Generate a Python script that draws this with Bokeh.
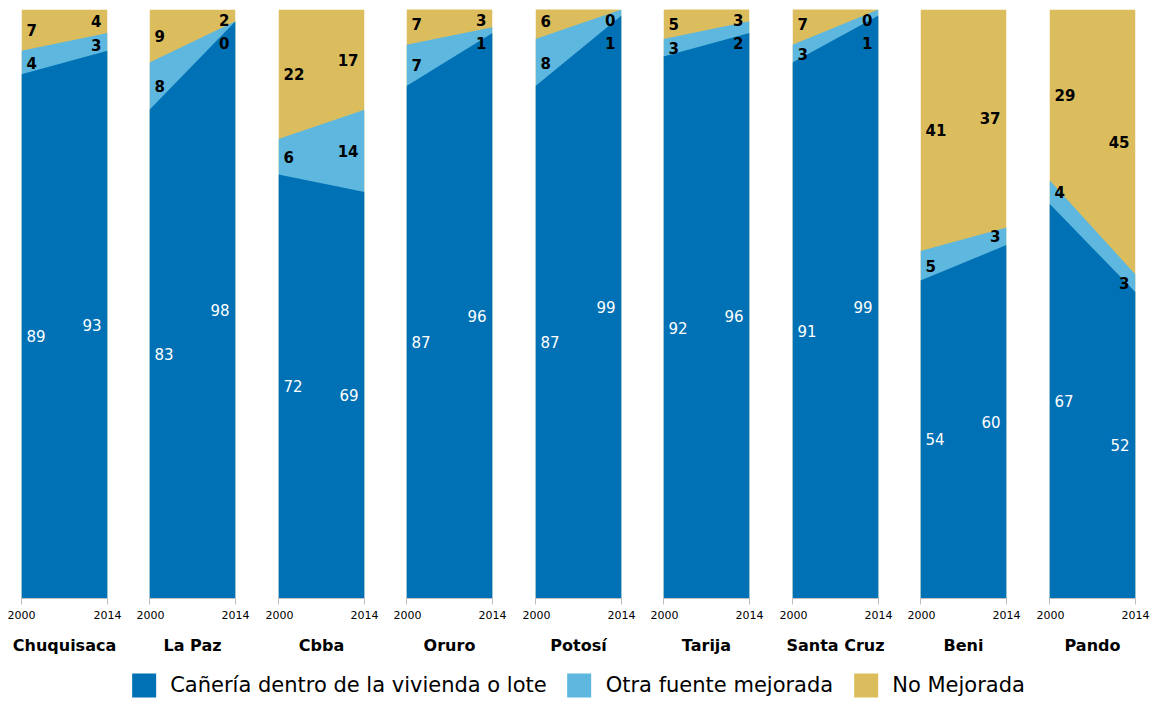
from bokeh.plotting import figure
from bokeh.models import (Range1d, FixedTicker, ColumnDataSource, Legend, LegendItem)
from bokeh.layouts import row, column
from bokeh.core.properties import value
from bokeh.embed import file_html
from bokeh.resources import INLINE

regions = ["Chuquisaca", "La Paz", "Cbba", "Oruro", "Potosí", "Tarija", "Santa Cruz", "Beni", "Pando"]
years = [2000, 2014]
caneria_2000 = [89, 83, 72, 87, 87, 92, 91, 54, 67]
caneria_2014 = [93, 98, 69, 96, 99, 96, 99, 60, 52]
otra_2000 = [4, 8, 6, 7, 8, 3, 3, 5, 4]
otra_2014 = [3, 0, 14, 1, 1, 2, 1, 3, 3]
nomej_2000 = [7, 9, 22, 7, 6, 5, 7, 41, 29]
nomej_2014 = [4, 2, 17, 3, 0, 3, 0, 37, 45]

series_names = ["Cañería dentro de la vivienda o lote", "Otra fuente mejorada", "No Mejorada"]
C_DARK = "#0071B4"
C_LIGHT = "#5DB7DE"
C_GOLD = "#DBBD5E"
FONT = "DejaVu Sans"

PLOT_W = 86
fig_widths = [136, 129, 128, 129, 128, 129, 128, 129, 117]
left_borders = [21, 13, 13, 13, 13, 13, 13, 13, 13]
figs = []
for i, reg in enumerate(regions):
    w = fig_widths[i]
    bl = left_borders[i]
    p = figure(width=w, height=668, output_backend="svg", toolbar_location=None,
               x_range=Range1d(2000, 2014), y_range=Range1d(0, 100),
               y_axis_location=None, min_border_left=bl, min_border_right=w - bl - PLOT_W,
               min_border_top=9, min_border_bottom=70)
    p.outline_line_color = None
    p.grid.visible = False
    p.background_fill_color = None
    p.border_fill_color = None

    c = [caneria_2000[i], caneria_2014[i]]
    o = [otra_2000[i], otra_2014[i]]
    nm = [nomej_2000[i], nomej_2014[i]]
    lb = [c[k] + o[k] for k in range(2)]
    top = [lb[k] + nm[k] for k in range(2)]
    src = ColumnDataSource(dict(x=years, c=c, lb=lb, top=top))
    p.varea(x="x", y1=0, y2="top", source=src, fill_color=C_GOLD)
    p.varea(x="x", y1=0, y2="lb", source=src, fill_color=C_LIGHT)
    p.varea(x="x", y1=0, y2="c", source=src, fill_color=C_DARK)

    # label positions (middle of each layer, kept apart near the top)
    for k, (yr, align, off) in enumerate([(2000, "left", 5), (2014, "right", -6)]):
        y_n = min(c[k] + o[k] + nm[k] / 2, 98.3)
        y_o = min(c[k] + o[k] / 2, y_n - 4)
        y_c = c[k] / 2
        p.text(x=[yr], y=[y_c], text=[str(c[k])], text_align=align, text_baseline="middle",
               x_offset=off, text_color="white", text_font=value(FONT), text_font_size="15px")
        p.text(x=[yr, yr], y=[y_o, y_n], text=[str(o[k]), str(nm[k])], text_align=align,
               text_baseline="middle", x_offset=off, text_color="black", text_font=value(FONT),
               text_font_size="15px", text_font_style="bold")

    ax = p.xaxis[0]
    ax.ticker = FixedTicker(ticks=years)
    ax.axis_line_color = "#BFBFBF"
    ax.major_tick_line_color = "#BFBFBF"
    ax.major_tick_out = 6
    ax.major_tick_in = 0
    ax.minor_tick_line_color = None
    ax.major_label_text_font = FONT
    ax.major_label_text_font_size = "11px"
    ax.major_label_text_color = "black"
    ax.major_label_standoff = 6
    ax.axis_label = reg
    ax.axis_label_text_font = FONT
    ax.axis_label_text_font_size = "16px"
    ax.axis_label_text_font_style = "bold"
    ax.axis_label_text_color = "black"
    ax.axis_label_standoff = 14
    figs.append(p)

lg = figure(width=1153, height=34, output_backend="svg", toolbar_location=None,
            x_range=Range1d(0, 1), y_range=Range1d(0, 1),
            x_axis_location=None, y_axis_location=None, min_border=0)
lg.outline_line_color = None
lg.grid.visible = False
items = []
for name, col in zip(series_names, [C_DARK, C_LIGHT, C_GOLD]):
    r = lg.quad(left=[5], right=[6], top=[5], bottom=[6], fill_color=col, line_color=None)
    items.append(LegendItem(label=name, renderers=[r]))
legend = Legend(items=items, orientation="horizontal", location="center",
                glyph_width=30, glyph_height=30, label_standoff=12, spacing=17,
                padding=0, margin=0, border_line_color=None, background_fill_alpha=0,
                label_text_font=FONT, label_text_font_size="21px", label_text_color="black",
                label_height=30)
lg.add_layout(legend, "center")

layout = column(row(*figs, spacing=0), lg, spacing=0)
open("out.html", "w").write(file_html(layout, INLINE))
